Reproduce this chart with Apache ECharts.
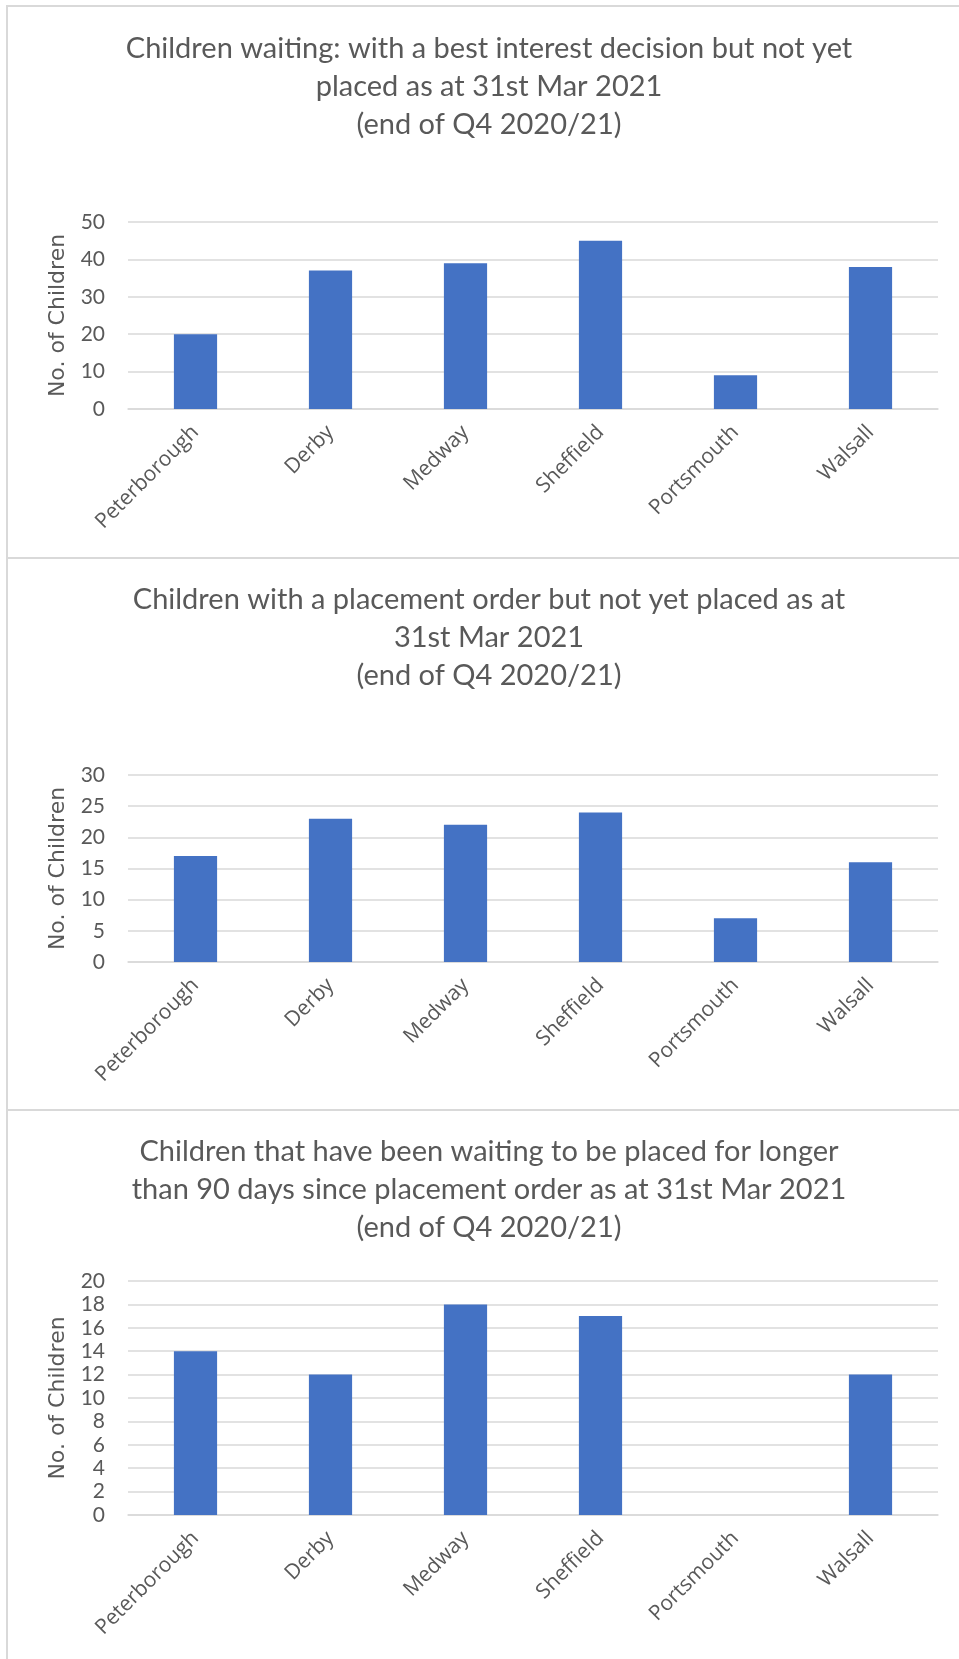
<!DOCTYPE html>
<html>
<head>
<meta charset="utf-8">
<script src="https://cdn.jsdelivr.net/npm/echarts@6/dist/echarts.min.js"></script>
<style>
  html, body { margin: 0; padding: 0; background: #fff; }
  #main { width: 959px; height: 1659px; }
</style>
</head>
<body>
<div id="main"></div>
<script>
'use strict';

// 数据
const authorities = ['Peterborough', 'Derby', 'Medway', 'Sheffield', 'Portsmouth', 'Walsall'];

const titles = [
    'Children waiting: with a best interest decision but not yet\nplaced as at 31st Mar 2021\n(end of Q4 2020/21)',
    'Children with a placement order but not yet placed as at\n31st Mar 2021\n(end of Q4 2020/21)',
    'Children that have been waiting to be placed for longer\nthan 90 days since placement order as at 31st Mar 2021\n(end of Q4 2020/21)'
];

const bestInterestValues = [20, 37, 39, 45, 9, 38];
const placementOrderValues = [17, 23, 22, 24, 7, 16];
const over90DaysValues = [14, 12, 18, 17, 0, 12];

const yMax = [50, 30, 20];
const yStep = [10, 5, 2];

const seriesValues = [bestInterestValues, placementOrderValues, over90DaysValues];

// 布局
const panelTops = [6, 558, 1110];
const panelHeights = [552, 552, 560];
const titleTops = [25, 576, 1128];
const gridTops = [222, 775, 1281];
const gridHeights = [187, 187, 234];

const TEXT = '#595959';
const GRID = '#d9d9d9';
const BAR = '#4472C4';

const chart = echarts.init(document.getElementById('main'));

const option = {
    backgroundColor: '#fff',
    animation: false,
    title: titles.map((t, i) => ({
        text: t,
        left: 484,
        top: titleTops[i],
        textAlign: 'center',
        textStyle: {
            fontFamily: 'Lato',
            fontWeight: 'normal',
            fontSize: 29,
            lineHeight: 38,
            color: TEXT
        }
    })),
    graphic: panelTops.map((top, i) => ({
        type: 'rect',
        shape: { x: 7, y: top, width: 970, height: panelHeights[i] },
        style: { fill: 'none', stroke: GRID, lineWidth: 2 },
        silent: true
    })),
    grid: gridTops.map((top, i) => ({
        left: 128,
        right: 21,
        top: top,
        height: gridHeights[i]
    })),
    xAxis: gridTops.map((_, i) => ({
        type: 'category',
        gridIndex: i,
        data: authorities,
        axisLine: { lineStyle: { color: GRID, width: 1.5 } },
        axisTick: { show: false },
        axisLabel: {
            rotate: 45,
            margin: 20,
            interval: 0,
            fontFamily: 'Open Sans',
            fontSize: 21,
            color: TEXT
        }
    })),
    yAxis: gridTops.map((_, i) => ({
        type: 'value',
        gridIndex: i,
        min: 0,
        max: yMax[i],
        interval: yStep[i],
        name: 'No. of Children',
        nameLocation: 'middle',
        nameRotate: 90,
        nameGap: 58,
        nameTextStyle: {
            fontFamily: 'DejaVu Sans',
            fontSize: 22,
            color: TEXT
        },
        axisLine: { show: false },
        axisTick: { show: false },
        axisLabel: {
            margin: 23,
            fontFamily: 'Lato',
            fontSize: 21,
            color: TEXT
        },
        splitLine: { lineStyle: { color: GRID, width: 1.5 } }
    })),
    series: seriesValues.map((vals, i) => ({
        type: 'bar',
        xAxisIndex: i,
        yAxisIndex: i,
        data: vals,
        barWidth: '32%',
        itemStyle: { color: BAR }
    }))
};

chart.setOption(option);
</script>
</body>
</html>
